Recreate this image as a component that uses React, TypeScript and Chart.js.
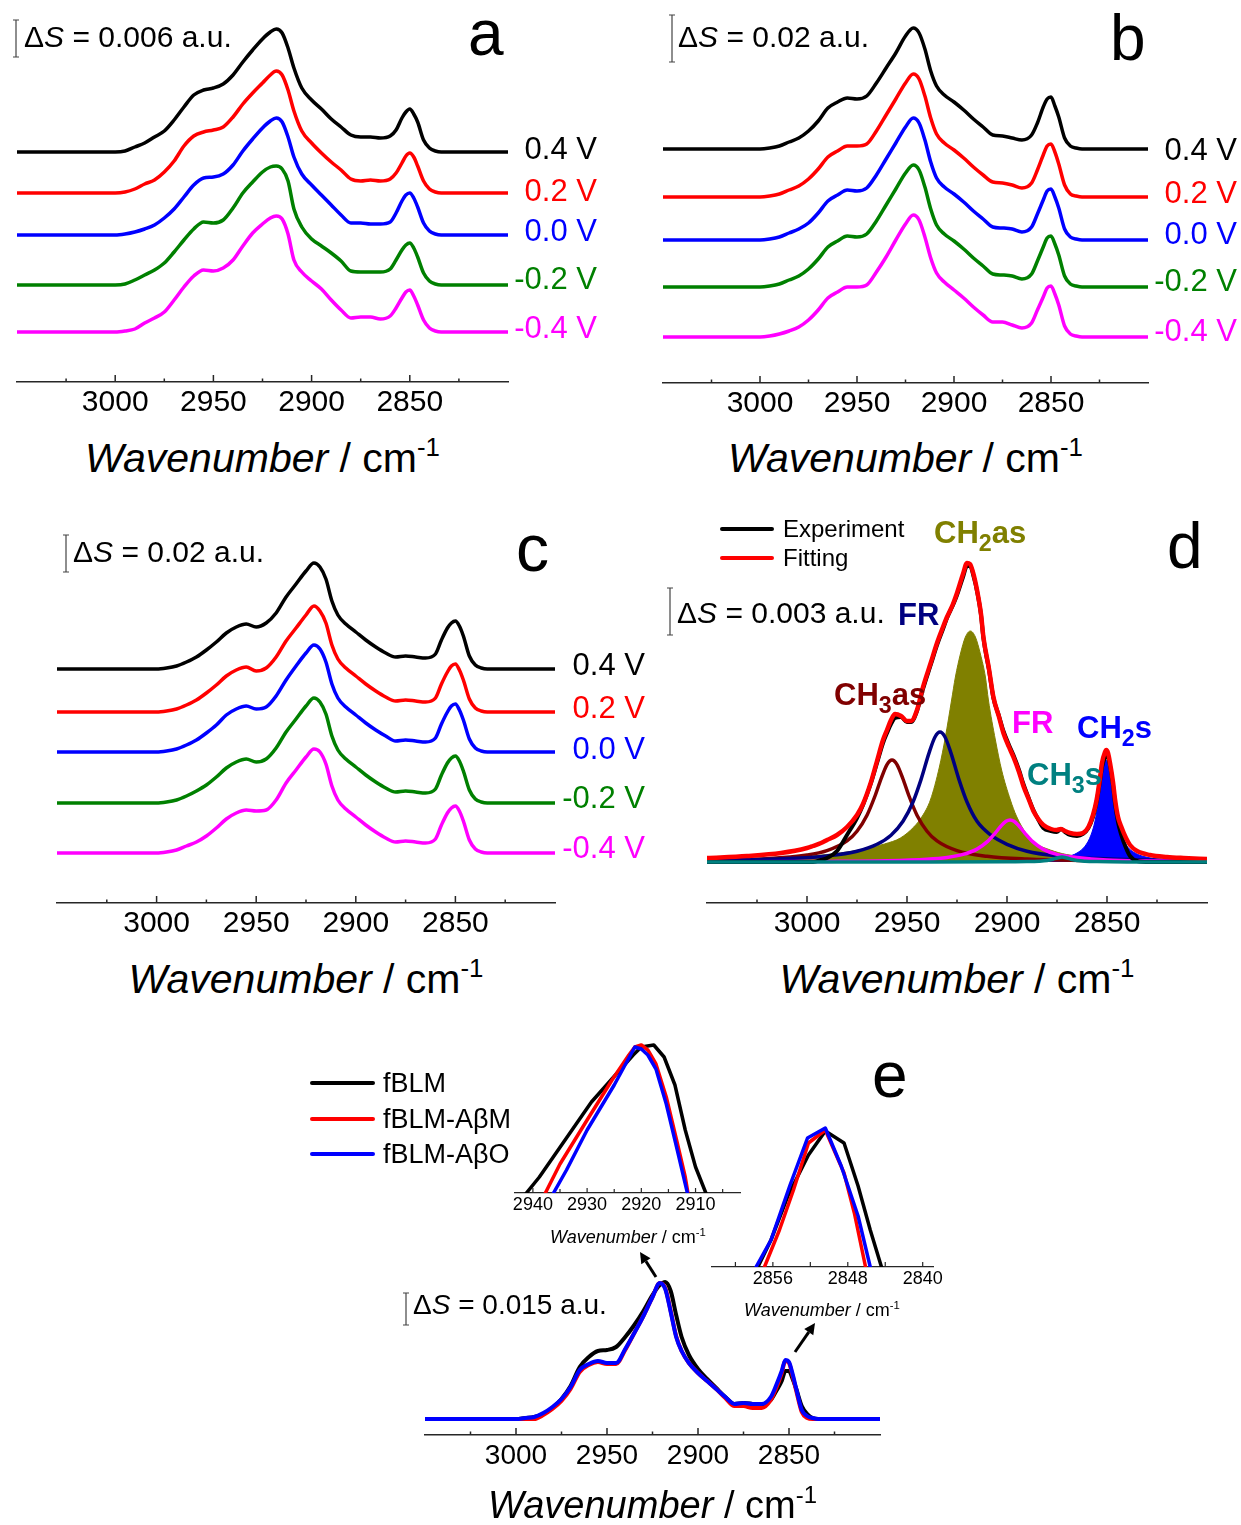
import React, { useEffect, useRef } from 'react';
import { Chart, registerables } from 'chart.js';

Chart.register(...registerables);

const FONT = "'Liberation Sans', Arial, Helvetica, sans-serif";
const AXIS_COLOR = '#262626';

// ---------------- DATA ----------------
// common wavenumber grid (cm-1) for panels a, b, c, e
const WN = [3050, 3000, 2995, 2990, 2985, 2980, 2975, 2970, 2965, 2960, 2955, 2950, 2945, 2940, 2935, 2930, 2925, 2921, 2918, 2915, 2912, 2909, 2905, 2900, 2895, 2890, 2885, 2880, 2875, 2870, 2865, 2860, 2857, 2854, 2852, 2850, 2848, 2846, 2843, 2840, 2837, 2834, 2825, 2800];

const POTENTIALS = ['0.4 V', '0.2 V', '0.0 V', '-0.2 V', '-0.4 V'];
const POT_COLORS = ['#000000', '#FF0000', '#0000FF', '#008000', '#FF00FF'];

// panel a (relative intensity above each baseline)
const A_04 = [0, 0, 1, 5, 9, 15, 21, 32, 45, 57, 62, 64, 68, 77, 90, 102, 113, 120, 123, 119, 104, 84, 64, 52, 43, 33, 25, 17, 15, 15, 14, 16, 22, 34, 40, 43, 38, 30, 12, 4, 1, 0, 0, 0];
const A_02 = [0, 0, 1, 4, 9, 13, 21, 32, 47, 57, 61, 63, 66, 76, 89, 100, 110, 118, 122, 118, 103, 82, 62, 50, 40, 31, 23, 14, 12, 13, 12, 14, 20, 30, 37, 40, 36, 27, 12, 4, 1, 0, 0, 0];
const A_00 = [0, 0, 1, 3, 6, 10, 17, 26, 38, 50, 57, 58, 61, 70, 84, 96, 107, 114, 117, 113, 98, 78, 61, 50, 40, 30, 20, 12, 12, 11, 11, 13, 22, 34, 40, 42, 37, 28, 12, 4, 1, 0, 0, 0];
const A_M02 = [0, 0, 1, 5, 10, 15, 22, 33, 45, 56, 63, 62, 65, 77, 92, 103, 113, 118, 119, 116, 104, 76, 58, 46, 39, 32, 24, 14, 13, 13, 13, 16, 25, 35, 40, 42, 37, 28, 12, 4, 1, 0, 0, 0];
const A_M04 = [0, 0, 1, 3, 9, 14, 20, 32, 45, 56, 62, 61, 64, 72, 86, 99, 108, 114, 116, 113, 98, 72, 60, 51, 43, 32, 22, 14, 15, 15, 13, 16, 24, 34, 40, 42, 36, 27, 12, 4, 1, 0, 0, 0];
const A_OFFSETS = [230, 189, 147, 97, 50];

// panel b
const B_04 = [0, 0, 1, 3, 7, 11, 18, 28, 41, 47, 51, 50, 53, 66, 81, 96, 113, 121, 116, 100, 78, 63, 54, 47, 39, 30, 22, 14, 13, 11, 9, 14, 26, 42, 50, 52, 43, 32, 11, 3, 1, 0, 0, 0];
const B_02 = [0, 0, 1, 3, 7, 11, 18, 28, 40, 46, 51, 51, 53, 66, 82, 98, 114, 123, 118, 101, 79, 63, 54, 47, 39, 30, 22, 15, 14, 12, 9, 14, 27, 42, 51, 53, 45, 33, 12, 3, 1, 0, 0, 0];
const B_00 = [0, 0, 1, 3, 7, 11, 17, 27, 39, 45, 50, 49, 52, 65, 81, 97, 113, 122, 117, 100, 78, 62, 53, 46, 38, 29, 21, 13, 12, 11, 8, 13, 26, 40, 49, 51, 43, 32, 11, 3, 1, 0, 0, 0];
const B_M02 = [0, 0, 1, 3, 7, 11, 18, 28, 40, 46, 51, 50, 53, 66, 82, 98, 114, 122, 117, 100, 78, 62, 53, 46, 38, 29, 21, 13, 12, 11, 8, 13, 26, 40, 49, 51, 43, 32, 11, 3, 1, 0, 0, 0];
const B_M04 = [0, 0, 1, 3, 6, 10, 17, 27, 39, 45, 50, 50, 52, 65, 80, 97, 113, 122, 117, 100, 79, 64, 55, 47, 39, 30, 22, 15, 15, 12, 9, 14, 27, 40, 49, 51, 43, 32, 11, 3, 1, 0, 0, 0];
const B_OFFSETS = [234, 186, 143, 96, 46];

// panel c
const C_04 = [0, 0, 1, 3, 7, 12, 19, 27, 36, 42, 45, 42, 46, 56, 72, 85, 98, 106, 102, 90, 68, 54, 45, 37, 29, 22, 16, 12, 13, 12, 11, 15, 29, 41, 46, 48, 43, 33, 13, 4, 1, 0, 0, 0];
const C_02 = [0, 0, 1, 3, 7, 12, 19, 27, 36, 42, 45, 41, 44, 55, 71, 84, 97, 106, 101, 89, 67, 53, 44, 36, 28, 21, 15, 11, 12, 11, 10, 14, 28, 40, 46, 48, 42, 32, 13, 4, 1, 0, 0, 0];
const C_00 = [0, 0, 1, 3, 7, 12, 19, 27, 37, 43, 46, 43, 45, 56, 72, 86, 99, 107, 103, 90, 68, 54, 45, 37, 29, 22, 16, 11, 12, 11, 10, 14, 28, 40, 46, 48, 42, 32, 13, 4, 1, 0, 0, 0];
const C_M02 = [0, 0, 1, 3, 7, 12, 18, 26, 35, 41, 44, 41, 44, 55, 71, 84, 97, 105, 101, 89, 67, 53, 44, 36, 28, 21, 15, 11, 12, 11, 10, 14, 28, 40, 45, 47, 42, 32, 13, 4, 1, 0, 0, 0];
const C_M04 = [0, 0, 1, 3, 7, 11, 17, 25, 34, 40, 43, 42, 43, 53, 70, 83, 96, 104, 101, 89, 67, 53, 44, 36, 28, 21, 15, 11, 12, 11, 10, 14, 28, 40, 45, 47, 42, 32, 13, 4, 1, 0, 0, 0];
const C_OFFSETS = [234, 191, 151, 100, 50];

// panel d : experiment and fit
const D_WN = [3050, 3030, 3013, 3000, 2997, 2993, 2990, 2985, 2980, 2975, 2972, 2968, 2965, 2962, 2960, 2958, 2956, 2953, 2950, 2948, 2945, 2942, 2938, 2935, 2932, 2930, 2927, 2925, 2922, 2920, 2918.5, 2916.5, 2915, 2913, 2911.8, 2909, 2906.8, 2904, 2901.8, 2899, 2896.8, 2894, 2891.8, 2889, 2886.8, 2884, 2881.8, 2878, 2875.2, 2873, 2871, 2868.5, 2865, 2862, 2859.3, 2857, 2855.2, 2853.5, 2852.5, 2851, 2850.3, 2849.5, 2848.5, 2847, 2846, 2844.5, 2843, 2840.5, 2838.5, 2835, 2828.5, 2820, 2811.8, 2800];
const D_FIT = [4, 6, 9, 14, 16, 19, 22, 27, 35, 47, 58, 80, 101, 122, 132, 142, 148, 146, 141, 141, 152, 175, 200, 219, 235, 245, 258, 269, 288, 299, 298, 286, 272, 248, 225, 193, 165, 145, 129, 115, 105, 90, 76, 62, 51, 42, 37, 33, 32, 33, 31, 29, 28, 29, 35, 47, 62, 84, 99, 110, 112, 109, 99, 80, 63, 45, 36, 24, 17, 11, 7, 5, 4, 3];
const D_EXP = [0, 0, 0, 0, 0, 2, 4, 11, 27, 44, 57, 79, 99, 119, 129, 138, 144, 145, 140, 140, 151, 173, 198, 217, 233, 244, 257, 267, 285, 296, 296, 284, 271, 247, 224, 192, 164, 146, 131, 117, 107, 92, 78, 63, 52, 41, 34, 31, 30, 33, 30, 27, 26, 28, 34, 45, 60, 81, 95, 105, 108, 105, 96, 77, 59, 40, 28, 14, 6, 1, 0, 0, 0, 0];
const D_OFFSET = 41;

// panel d : fitted components
const CH3AS_WN = [3050, 3020, 3000, 2990, 2980, 2975, 2970, 2966, 2963, 2960, 2957.5, 2955, 2952, 2949, 2945, 2940, 2935, 2925, 2910, 2890, 2860, 2800];
const CH3AS = [1.6, 3.3, 7.0, 11.4, 21.1, 30.8, 46.8, 66.0, 83.0, 97.4, 102, 97.4, 83.0, 66.0, 46.8, 30.8, 21.1, 11.4, 5.7, 2.9, 1.4, 0.5];
const FR1_WN = [3050, 3010, 2990, 2975, 2965, 2958, 2952, 2947, 2943, 2939, 2936, 2933.5, 2931, 2928, 2924, 2920, 2915, 2908, 2900, 2890, 2875, 2855, 2830, 2800];
const FR1 = [1.5, 3.4, 6.1, 10.8, 17.7, 26.8, 40.7, 60.0, 82.4, 108.9, 125, 130, 125, 108.9, 82.4, 60.0, 40.7, 26.8, 17.7, 10.8, 6.1, 3.4, 1.9, 1.1];
const CH2AS_WN = [3050, 2998.3, 2978.3, 2968.3, 2961.3, 2953.3, 2946.6, 2942.3, 2938.3, 2933.8, 2930.8, 2927.7, 2925.8, 2923.3, 2920.8, 2918.3, 2915.8, 2913.3, 2910.8, 2909.3, 2905.8, 2902.7, 2898.3, 2895.3, 2890.3, 2886.8, 2878.3, 2870.3, 2858.3, 2838.3, 2800];
const CH2AS = [2.5, 6, 10.5, 14.5, 18, 24, 35, 46, 62, 95, 125, 162, 185, 208, 225, 231, 225, 208, 185, 162, 122, 92, 62, 46, 28, 20, 12, 7.5, 5, 3, 1.5];
const FR2_WN = [3050, 2990, 2960, 2940, 2930, 2922, 2915, 2910, 2906, 2903, 2900.5, 2898.5, 2896.5, 2894, 2891, 2887, 2882, 2875, 2865, 2850, 2830, 2800];
const FR2 = [0.2, 0.6, 1.3, 2.8, 4.6, 7.6, 12.9, 20.1, 28.7, 36.0, 40.7, 42, 40.7, 36.0, 28.7, 20.1, 12.9, 7.6, 4.6, 2.1, 1.1, 0.5];
const CH3S_WN = [3050, 2950, 2900, 2890, 2884, 2880, 2877, 2875, 2872.5, 2870, 2868, 2865, 2861, 2855, 2840, 2800];
const CH3S = [0, 0, 0.2, 0.4, 0.8, 1.5, 2.8, 4.0, 5, 4.0, 2.8, 1.5, 0.8, 0.4, 0.1, 0];
const CH2S_WN = [3050, 2950, 2900, 2880, 2870, 2865, 2861, 2858, 2856, 2854, 2852.5, 2850.5, 2848.5, 2847, 2845, 2843, 2840, 2836, 2830, 2820, 2800];
const CH2S = [0.1, 0.2, 0.8, 2.3, 5.2, 9.0, 15.8, 27.0, 40.9, 63.6, 85.2, 102, 85.2, 63.6, 40.9, 27.0, 15.8, 9.0, 4.7, 2.2, 0.8];

// panel e main
const E_FBLM = [0, 0, 1, 2, 5, 11, 20, 33, 52, 62, 68, 69, 72, 82, 94, 108, 124, 134, 137, 128, 104, 82, 64, 50, 40, 31, 22, 15, 16, 15, 14, 19, 28, 38, 48, 48, 40, 30, 13, 5, 1, 0, 0, 0];
const E_ABM = [0, 0, 0, 0, 4, 10, 18, 30, 47, 54, 57, 55, 55, 69, 86, 103, 122, 136, 131, 108, 83, 68, 56, 46, 38, 30, 21, 13, 13, 11, 11, 19, 31, 46, 58, 56, 43, 28, 7, 1, 0, 0, 0, 0];
const E_ABO = [0, 0, 1, 2, 6, 12, 20, 32, 49, 55, 58, 56, 56, 70, 86, 103, 122, 136, 130, 107, 82, 68, 56, 46, 38, 30, 22, 15, 16, 15, 15, 22, 34, 48, 59, 57, 45, 30, 9, 3, 1, 0, 0, 0];
const E_OFFSET = 16;

// panel e insets (intensity above inset axis)
const IN1_BLM_WN = [2941.2, 2938.8, 2929.2, 2921.5, 2920.0, 2917.7, 2915.8, 2913.8, 2911.9, 2910.0, 2908.1];
const IN1_BLM = [0, 16, 91, 138, 146, 148, 136, 108, 63, 26, 0];
const IN1_ABM_WN = [2937.7, 2935.0, 2930.0, 2925.4, 2922.3, 2921.2, 2920.0, 2918.8, 2917.3, 2915.4, 2913.5, 2911.9, 2911.4];
const IN1_ABM = [0, 29, 73, 113, 138, 146, 148, 143, 129, 96, 53, 16, 0];
const IN1_ABO_WN = [2936.2, 2933.8, 2930.0, 2925.0, 2921.9, 2921.2, 2920.0, 2918.8, 2917.3, 2915.4, 2913.5, 2912.2, 2911.5];
const IN1_ABO = [0, 23, 63, 108, 139, 146, 144, 138, 124, 89, 46, 16, 0];
const IN2_BLM_WN = [2857.6, 2856.2, 2854.4, 2852.2, 2850.4, 2848.4, 2846.9, 2845.6, 2844.4];
const IN2_BLM = [0, 27, 71, 112, 136, 124, 81, 37, 0];
const IN2_ABM_WN = [2856.9, 2855.3, 2853.8, 2852.2, 2850.4, 2848.4, 2847.3, 2846.1];
const IN2_ABM = [0, 37, 77, 124, 137, 94, 54, 0];
const IN2_ABO_WN = [2857.8, 2856.2, 2854.2, 2852.3, 2850.4, 2848.7, 2846.9, 2845.6];
const IN2_ABO = [0, 27, 81, 129, 139, 101, 51, 0];

// axis ticks
const MAIN_TICKS = [3000, 2950, 2900, 2850];
const MAIN_MINOR = [3025, 2975, 2925, 2875, 2825];
const IN1_TICKS = [2940, 2930, 2920, 2910];
const IN1_MINOR = [2935, 2925, 2915, 2905];
const IN2_TICKS = [2856, 2848, 2840];
const IN2_MINOR = [2860, 2852, 2844];

// scale bars (same intensity units as the curves) and their labels
const SCALEBAR_LEN = [37, 47, 37, 47, 32];
const SCALEBAR_TEXT = ['0.006', '0.02', '0.02', '0.003', '0.015'];

// ---------------- CHART HELPERS ----------------
type Series = { x: number[]; y: number[]; color: string; width: number; offset: number; fill?: boolean; straight?: boolean };
type CurveLabel = { text: string; color: string; value: number; dy: number };
type Spec = {
  left: number; right: number; top: number; axisY: number;
  padL: number; padR: number; axisH: number;
  xMin: number; xMax: number;
  ticks: number[]; minor: number[];
  majorLen: number; minorLen: number;
  tickFont: number; tickPad: number; axisWidth: number;
  series: Series[];
  labels?: CurveLabel[]; labelGap?: number; labelSize?: number;
  bar?: { x: number; top: number; len: number };
};

const stack = (vals: number[][], offsets: number[], x: number[], width: number): Series[] =>
  vals.map((v, i) => ({ x, y: v, color: POT_COLORS[i], width, offset: offsets[i] }));

const potLabels = (offsets: number[], dys: number[]): CurveLabel[] =>
  POTENTIALS.map((t, i) => ({ text: t, color: POT_COLORS[i], value: offsets[i], dy: dys[i] }));

const SPECS: Spec[] = [
  {
    left: 17, right: 508, top: 0, axisY: 382, padL: 12, padR: 100, axisH: 50,
    xMin: 2800, xMax: 3050, ticks: MAIN_TICKS, minor: MAIN_MINOR, majorLen: 7, minorLen: 3.5,
    tickFont: 30, tickPad: 3, axisWidth: 1.5,
    series: stack([A_04, A_02, A_00, A_M02, A_M04], A_OFFSETS, WN, 3.5),
    labels: potLabels(A_OFFSETS, [-2, -1, -3, -5, -3]), labelGap: 89, labelSize: 31,
    bar: { x: 16, top: 362, len: SCALEBAR_LEN[0] },
  },
  {
    left: 663, right: 1148, top: 0, axisY: 383, padL: 12, padR: 92, axisH: 50,
    xMin: 2800, xMax: 3050, ticks: MAIN_TICKS, minor: MAIN_MINOR, majorLen: 7, minorLen: 3.5,
    tickFont: 30, tickPad: 3, axisWidth: 1.5,
    series: stack([B_04, B_02, B_00, B_M02, B_M04], B_OFFSETS, WN, 3.5),
    labels: potLabels(B_OFFSETS, [2, -3, -5, -5, -5]), labelGap: 89, labelSize: 31,
    bar: { x: 672, top: 368, len: SCALEBAR_LEN[1] },
  },
  {
    left: 57, right: 555, top: 520, axisY: 903, padL: 12, padR: 95, axisH: 50,
    xMin: 2800, xMax: 3050, ticks: MAIN_TICKS, minor: MAIN_MINOR, majorLen: 7, minorLen: 3.5,
    tickFont: 30, tickPad: 3, axisWidth: 1.5,
    series: stack([C_04, C_02, C_00, C_M02, C_M04], C_OFFSETS, WN, 3.5),
    labels: potLabels(C_OFFSETS, [-3, -3, -2, -4, -4]), labelGap: 90, labelSize: 31,
    bar: { x: 66, top: 368, len: SCALEBAR_LEN[2] },
  },
  {
    left: 707, right: 1207, top: 520, axisY: 903, padL: 42, padR: 30, axisH: 50,
    xMin: 2800, xMax: 3050, ticks: MAIN_TICKS, minor: MAIN_MINOR, majorLen: 7, minorLen: 3.5,
    tickFont: 30, tickPad: 3, axisWidth: 1.5,
    series: [
      { x: CH3S_WN, y: CH3S, color: '#008080', width: 3.5, offset: D_OFFSET },
      { x: D_WN, y: D_FIT, color: '#FF0000', width: 4.5, offset: D_OFFSET },
      { x: D_WN, y: D_EXP, color: '#000000', width: 4, offset: D_OFFSET },
      { x: FR2_WN, y: FR2, color: '#FF00FF', width: 3.5, offset: D_OFFSET },
      { x: FR1_WN, y: FR1, color: '#000080', width: 3.5, offset: D_OFFSET },
      { x: CH3AS_WN, y: CH3AS, color: '#800000', width: 3.5, offset: D_OFFSET },
      { x: CH2S_WN, y: CH2S, color: '#0000FF', width: 1, offset: D_OFFSET, fill: true },
      { x: CH2AS_WN, y: CH2AS, color: '#808000', width: 1, offset: D_OFFSET, fill: true },
    ],
    bar: { x: 670, top: 315, len: SCALEBAR_LEN[3] },
  },
  {
    left: 425, right: 880, top: 1270, axisY: 1435, padL: 25, padR: 15, axisH: 48,
    xMin: 2800, xMax: 3050, ticks: MAIN_TICKS, minor: MAIN_MINOR, majorLen: 7, minorLen: 3.5,
    tickFont: 28, tickPad: 4, axisWidth: 1.5,
    series: [
      { x: WN, y: E_ABO, color: '#0000FF', width: 4, offset: E_OFFSET },
      { x: WN, y: E_ABM, color: '#FF0000', width: 4, offset: E_OFFSET },
      { x: WN, y: E_FBLM, color: '#000000', width: 4, offset: E_OFFSET },
    ],
    bar: { x: 406, top: 142, len: SCALEBAR_LEN[4] },
  },
  {
    left: 515, right: 740, top: 1040, axisY: 1193, padL: 15, padR: 25, axisH: 28,
    xMin: 2901.8, xMax: 2943.3, ticks: IN1_TICKS, minor: IN1_MINOR, majorLen: 5, minorLen: 4,
    tickFont: 18, tickPad: 1, axisWidth: 1.2,
    series: [
      { x: IN1_ABO_WN, y: IN1_ABO, color: '#0000FF', width: 3.5, offset: 0, straight: true },
      { x: IN1_ABM_WN, y: IN1_ABM, color: '#FF0000', width: 3.5, offset: 0, straight: true },
      { x: IN1_BLM_WN, y: IN1_BLM, color: '#000000', width: 3.5, offset: 0, straight: true },
    ],
  },
  {
    left: 712, right: 933, top: 1120, axisY: 1267, padL: 20, padR: 25, axisH: 28,
    xMin: 2838.9, xMax: 2862.5, ticks: IN2_TICKS, minor: IN2_MINOR, majorLen: 5, minorLen: 5,
    tickFont: 18, tickPad: 1, axisWidth: 1.2,
    series: [
      { x: IN2_ABO_WN, y: IN2_ABO, color: '#0000FF', width: 3.5, offset: 0, straight: true },
      { x: IN2_ABM_WN, y: IN2_ABM, color: '#FF0000', width: 3.5, offset: 0, straight: true },
      { x: IN2_BLM_WN, y: IN2_BLM, color: '#000000', width: 3.5, offset: 0, straight: true },
    ],
  },
];

function makeDeco(s: Spec) {
  return {
    id: 'deco',
    afterDraw(chart: any) {
      const { ctx, chartArea } = chart;
      const xs = chart.scales.x;
      const ys = chart.scales.y;
      const yb = chartArea.bottom;
      ctx.save();
      ctx.strokeStyle = AXIS_COLOR;
      ctx.lineWidth = s.axisWidth;
      ctx.beginPath();
      s.ticks.forEach((v) => {
        const px = xs.getPixelForValue(v);
        ctx.moveTo(px, yb);
        ctx.lineTo(px, yb - s.majorLen);
      });
      s.minor.forEach((v) => {
        const px = xs.getPixelForValue(v);
        ctx.moveTo(px, yb);
        ctx.lineTo(px, yb - s.minorLen);
      });
      ctx.stroke();
      if (s.labels) {
        ctx.font = `${s.labelSize}px ${FONT}`;
        ctx.textAlign = 'right';
        ctx.textBaseline = 'middle';
        s.labels.forEach((l) => {
          ctx.fillStyle = l.color;
          ctx.fillText(l.text, chartArea.right + (s.labelGap || 0), ys.getPixelForValue(l.value) + l.dy);
        });
      }
      if (s.bar) {
        const bx = s.bar.x - (s.left - s.padL);
        const y1 = ys.getPixelForValue(s.bar.top);
        const y2 = ys.getPixelForValue(s.bar.top - s.bar.len);
        ctx.strokeStyle = '#444';
        ctx.lineWidth = 1.2;
        ctx.beginPath();
        ctx.moveTo(bx, y1); ctx.lineTo(bx, y2);
        ctx.moveTo(bx - 3, y1); ctx.lineTo(bx + 3, y1);
        ctx.moveTo(bx - 3, y2); ctx.lineTo(bx + 3, y2);
        ctx.stroke();
      }
      ctx.restore();
    },
  };
}

function PanelChart({ spec }: { spec: Spec }) {
  const ref = useRef<HTMLCanvasElement | null>(null);
  const W = spec.right - spec.left + spec.padL + spec.padR;
  const H = spec.axisY - spec.top + spec.axisH;
  useEffect(() => {
    const canvas = ref.current;
    if (!canvas) return;
    const chart = new Chart(canvas, {
      type: 'line',
      data: {
        datasets: spec.series.map((s) => ({
          data: s.x.map((x, i) => ({ x, y: s.offset + s.y[i] })),
          borderColor: s.color,
          backgroundColor: s.fill ? s.color : 'transparent',
          borderWidth: s.width,
          pointRadius: 0,
          fill: s.fill ? { value: s.offset } : false,
          cubicInterpolationMode: s.straight ? 'default' : 'monotone',
          tension: 0,
          borderJoinStyle: 'round',
          borderCapStyle: 'round',
        })),
      },
      options: {
        animation: false,
        responsive: false,
        devicePixelRatio: 1,
        events: [],
        layout: { padding: { left: spec.padL, right: spec.padR, top: 0, bottom: 0 } },
        plugins: { legend: { display: false }, tooltip: { enabled: false }, title: { display: false } },
        scales: {
          x: {
            type: 'linear',
            reverse: true,
            min: spec.xMin,
            max: spec.xMax,
            afterBuildTicks: (scale: any) => {
              scale.ticks = spec.ticks.map((v) => ({ value: v }));
            },
            afterFit: (scale: any) => {
              scale.height = spec.axisH;
            },
            border: { display: true, color: AXIS_COLOR, width: spec.axisWidth },
            grid: { display: false, drawTicks: false },
            ticks: {
              autoSkip: false,
              maxRotation: 0,
              minRotation: 0,
              padding: spec.tickPad,
              color: '#000',
              font: { family: FONT, size: spec.tickFont },
              callback: (v: any) => String(v),
            },
          },
          y: { display: false, min: 0, max: spec.axisY - spec.top },
        },
      } as any,
      plugins: [makeDeco(spec)],
    } as any);
    return () => chart.destroy();
  }, []);
  return (
    <canvas
      ref={ref}
      width={W}
      height={H}
      style={{ position: 'absolute', left: spec.left - spec.padL, top: spec.top, width: W, height: H }}
    />
  );
}

// ---------------- TEXT HELPERS ----------------
type TProps = { x: number; y: number; size: number; align?: 'left' | 'center' | 'right'; color?: string; bold?: boolean; children: any };
const T = ({ x, y, size, align = 'left', color = '#000', bold = false, children }: TProps) => (
  <div
    style={{
      position: 'absolute', left: x, top: y - 0.8465 * size, fontSize: size, lineHeight: 1,
      fontFamily: FONT, whiteSpace: 'nowrap', color, fontWeight: bold ? 700 : 400,
      transform: align === 'center' ? 'translateX(-50%)' : align === 'right' ? 'translateX(-100%)' : undefined,
    }}
  >
    {children}
  </div>
);

const AxisTitle = ({ cx, y, size }: { cx: number; y: number; size: number }) => (
  <T x={cx} y={y} size={size} align="center">
    <i>Wavenumber</i> / cm<span style={{ fontSize: '0.63em', position: 'relative', top: '-0.62em' }}>-1</span>
  </T>
);

const Sub = ({ c }: { c: string }) => (
  <span style={{ fontSize: '0.75em', position: 'relative', top: '0.36em' }}>{c}</span>
);

const DeltaS = ({ x, y, size, value }: { x: number; y: number; size: number; value: string }) => (
  <T x={x} y={y} size={size}>
    Δ<i>S</i> = {value} a.u.
  </T>
);

const LegendLine = ({ x1, x2, y, color, w = 4 }: { x1: number; x2: number; y: number; color: string; w?: number }) => (
  <div style={{ position: 'absolute', left: x1, top: y - w / 2, width: x2 - x1, height: w, background: color, borderRadius: w / 2 }} />
);

function arrowPath(x1: number, y1: number, x2: number, y2: number, head = 11, half = 5.5) {
  const dx = x2 - x1, dy = y2 - y1;
  const L = Math.hypot(dx, dy);
  const ux = dx / L, uy = dy / L;
  const bx = x2 - ux * head, by = y2 - uy * head;
  const px = -uy, py = ux;
  return {
    line: `M${x1},${y1} L${bx},${by}`,
    head: `M${x2},${y2} L${bx + px * half},${by + py * half} L${bx - px * half},${by - py * half} Z`,
  };
}

const ARROWS = [arrowPath(656, 1277, 640, 1252), arrowPath(795, 1352, 815, 1323)];

export default function App() {
  return (
    <div style={{ position: 'absolute', left: 0, top: 0, width: 1241, height: 1525, overflow: 'hidden', background: '#fff', fontFamily: FONT }}>
      {SPECS.map((s, i) => (
        <PanelChart key={i} spec={s} />
      ))}

      {/* panel a */}
      <T x={468} y={55} size={64}>a</T>
      <DeltaS x={24} y={47} size={30} value={SCALEBAR_TEXT[0]} />
      <AxisTitle cx={262.5} y={473} size={41} />

      {/* panel b */}
      <T x={1110} y={60} size={64}>b</T>
      <DeltaS x={678} y={47} size={30} value={SCALEBAR_TEXT[1]} />
      <AxisTitle cx={905.5} y={473} size={41} />

      {/* panel c */}
      <T x={516} y={571} size={66}>c</T>
      <DeltaS x={73} y={562} size={30} value={SCALEBAR_TEXT[2]} />
      <AxisTitle cx={306} y={994} size={41} />

      {/* panel d */}
      <T x={1167} y={568} size={64}>d</T>
      <DeltaS x={677} y={623} size={30} value={SCALEBAR_TEXT[3]} />
      <AxisTitle cx={957} y={994} size={41} />
      <LegendLine x1={720} x2={774} y={529} color="#000" />
      <LegendLine x1={720} x2={774} y={558} color="#FF0000" />
      <T x={783} y={537.5} size={24}>Experiment</T>
      <T x={783} y={566} size={24}>Fitting</T>
      <T x={934} y={543} size={31} bold color="#808000">CH<Sub c="2" />as</T>
      <T x={898} y={625} size={31} bold color="#000080">FR</T>
      <T x={834} y={705} size={31} bold color="#800000">CH<Sub c="3" />as</T>
      <T x={1012} y={733} size={31} bold color="#FF00FF">FR</T>
      <T x={1077} y={738} size={31} bold color="#0000FF">CH<Sub c="2" />s</T>
      <T x={1027} y={785} size={31} bold color="#008080">CH<Sub c="3" />s</T>

      {/* panel e */}
      <T x={872} y={1097} size={64}>e</T>
      <DeltaS x={413} y={1315} size={28} value={SCALEBAR_TEXT[4]} />
      <AxisTitle cx={652.5} y={1518} size={38} />
      <AxisTitle cx={628} y={1243} size={18} />
      <AxisTitle cx={822} y={1316} size={18} />
      <LegendLine x1={310} x2={375} y={1083} color="#000" />
      <LegendLine x1={310} x2={375} y={1119} color="#FF0000" />
      <LegendLine x1={310} x2={375} y={1154} color="#0000FF" />
      <T x={383} y={1093} size={27}>fBLM</T>
      <T x={383} y={1129} size={27}>fBLM-AβM</T>
      <T x={383} y={1164} size={27}>fBLM-AβO</T>
      <svg width={1241} height={1525} style={{ position: 'absolute', left: 0, top: 0, pointerEvents: 'none' }}>
        {ARROWS.map((a, i) => (
          <g key={i}>
            <path d={a.line} stroke="#000" strokeWidth={3} fill="none" />
            <path d={a.head} fill="#000" />
          </g>
        ))}
      </svg>
    </div>
  );
}
